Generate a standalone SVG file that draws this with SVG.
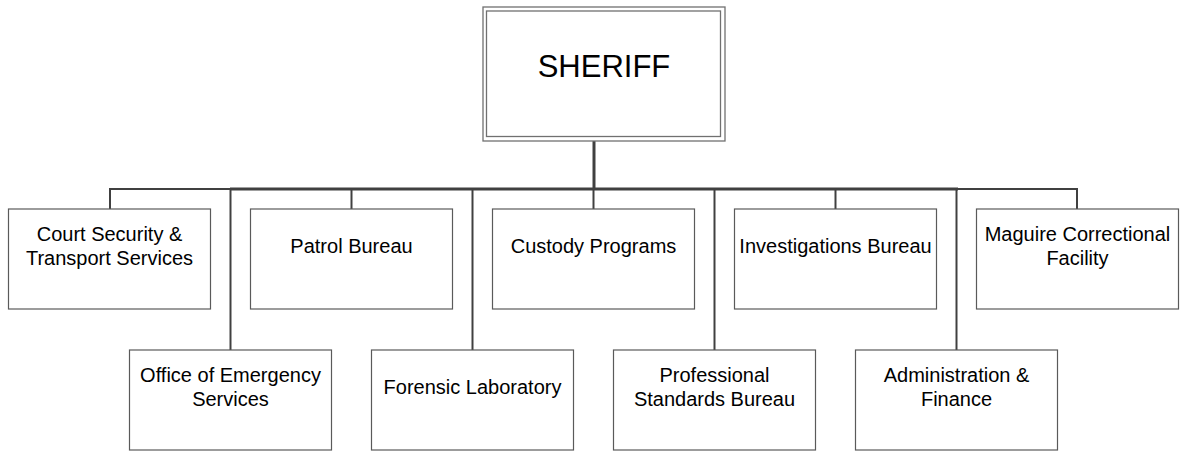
<svg xmlns="http://www.w3.org/2000/svg" width="1182" height="451" viewBox="0 0 1182 451">
  <style>
    .box { fill: #ffffff; stroke: #5a5a5a; stroke-width: 1.2; }
    .frame { fill: none; stroke: #707070; stroke-width: 1.3; }
    .label { font-family: "Liberation Sans", Arial, sans-serif; font-size: 20px; fill: #000000; text-anchor: middle; }
    .title { font-family: "Liberation Sans", Arial, sans-serif; font-size: 31px; fill: #000000; text-anchor: middle; }
    .wire { fill: none; stroke: #404040; stroke-width: 2; }
    .trunk { fill: none; stroke: #404040; stroke-width: 3; }
  </style>

  <!-- connectors: trunk from the top box, horizontal bus and drops to each unit -->
  <g id="connectors">
    <line class="trunk" x1="594" y1="141" x2="594" y2="189"/>
    <line class="wire" x1="109" y1="189" x2="232" y2="189"/>
    <line class="trunk" x1="230" y1="189" x2="958" y2="189"/>
    <line class="wire" x1="956" y1="189" x2="1078" y2="189"/>
    <line class="wire" x1="110" y1="189" x2="110" y2="209"/>
    <line class="wire" x1="230.5" y1="189" x2="230.5" y2="350"/>
    <line class="wire" x1="351.5" y1="189" x2="351.5" y2="209"/>
    <line class="wire" x1="472.5" y1="189" x2="472.5" y2="350"/>
    <line class="wire" x1="593.5" y1="189" x2="593.5" y2="209"/>
    <line class="wire" x1="714.5" y1="189" x2="714.5" y2="350"/>
    <line class="wire" x1="835.5" y1="189" x2="835.5" y2="209"/>
    <line class="wire" x1="956.5" y1="189" x2="956.5" y2="350"/>
    <line class="wire" x1="1077" y1="189" x2="1077" y2="209"/>
  </g>

  <g id="sheriff">
    <rect class="frame" x="483" y="7" width="242" height="134"/>
    <rect class="frame" x="486.5" y="11" width="234" height="125.5"/>
    <text class="title" x="604" y="77">SHERIFF</text>
  </g>

  <g id="court-security">
    <rect class="box" x="8.5" y="209" width="202" height="100"/>
    <text class="label" x="109.5" y="240.5">Court Security &amp;</text>
    <text class="label" x="109.5" y="265">Transport Services</text>
  </g>

  <g id="patrol-bureau">
    <rect class="box" x="250.5" y="209" width="202" height="100"/>
    <text class="label" x="351.5" y="253">Patrol Bureau</text>
  </g>

  <g id="custody-programs">
    <rect class="box" x="492.5" y="209" width="202" height="100"/>
    <text class="label" x="593.5" y="253">Custody Programs</text>
  </g>

  <g id="investigations-bureau">
    <rect class="box" x="734.5" y="209" width="202" height="100"/>
    <text class="label" x="835.5" y="253">Investigations Bureau</text>
  </g>

  <g id="maguire">
    <rect class="box" x="976.5" y="209" width="202" height="100"/>
    <text class="label" x="1077.5" y="240.5">Maguire Correctional</text>
    <text class="label" x="1077.5" y="265">Facility</text>
  </g>

  <g id="emergency-services">
    <rect class="box" x="129.5" y="350" width="202" height="100"/>
    <text class="label" x="230.5" y="381.5">Office of Emergency</text>
    <text class="label" x="230.5" y="406">Services</text>
  </g>

  <g id="forensic-laboratory">
    <rect class="box" x="371.5" y="350" width="202" height="100"/>
    <text class="label" x="472.5" y="393.5">Forensic Laboratory</text>
  </g>

  <g id="professional-standards">
    <rect class="box" x="613.5" y="350" width="202" height="100"/>
    <text class="label" x="714.5" y="381.5">Professional</text>
    <text class="label" x="714.5" y="406">Standards Bureau</text>
  </g>

  <g id="administration-finance">
    <rect class="box" x="855.5" y="350" width="202" height="100"/>
    <text class="label" x="956.5" y="381.5">Administration &amp;</text>
    <text class="label" x="956.5" y="406">Finance</text>
  </g>
</svg>
